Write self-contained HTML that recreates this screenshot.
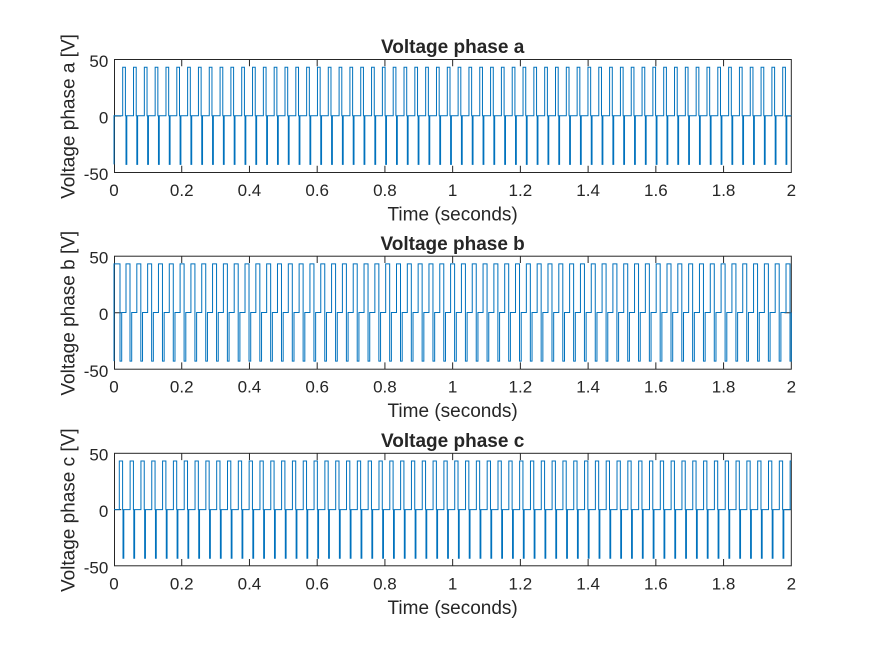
<!DOCTYPE html>
<html>
<head>
<meta charset="utf-8">
<style>
html,body{margin:0;padding:0;background:#fff;}
svg{display:block;}
text{font-family:"Liberation Sans",Arial,sans-serif;fill:#262626;}
.tk{font-size:17px;}
.lb{font-size:19px;}
.tt{font-size:19px;font-weight:bold;}
.ax{fill:none;stroke:#262626;stroke-width:1;}
.tick{stroke:#262626;stroke-width:1;fill:none;}
.data{fill:none;stroke:#0072BD;stroke-width:1;stroke-linejoin:miter;}
</style>
</head>
<body>
<svg width="875" height="656" viewBox="0 0 875 656" xmlns="http://www.w3.org/2000/svg">
<rect x="0" y="0" width="875" height="656" fill="#fff"/>

<!-- ===== Axes 1 ===== -->
<g>
<rect class="ax" x="114.5" y="59.5" width="676.8" height="113"/>
<path class="tick" d="M181.73,172.5v-6.8M249.46,172.5v-6.8M317.19,172.5v-6.8M384.92,172.5v-6.8M452.65,172.5v-6.8M520.38,172.5v-6.8M588.11,172.5v-6.8M655.84,172.5v-6.8M723.57,172.5v-6.8
M181.73,59.5v6.8M249.46,59.5v6.8M317.19,59.5v6.8M384.92,59.5v6.8M452.65,59.5v6.8M520.38,59.5v6.8M588.11,59.5v6.8M655.84,59.5v6.8M723.57,59.5v6.8
M114.5,116h6.8M791.3,116h-6.8"/>
<text class="tk" x="108.3" y="66.8" text-anchor="end">50</text>
<text class="tk" x="108.3" y="123.3" text-anchor="end">0</text>
<text class="tk" x="108.3" y="180.2" text-anchor="end">-50</text>
<g class="tk" text-anchor="middle">
<text x="114" y="196">0</text><text x="181.73" y="196">0.2</text><text x="249.46" y="196">0.4</text><text x="317.19" y="196">0.6</text><text x="384.92" y="196">0.8</text><text x="452.65" y="196">1</text><text x="520.38" y="196">1.2</text><text x="588.11" y="196">1.4</text><text x="655.84" y="196">1.6</text><text x="723.57" y="196">1.8</text><text x="791.3" y="196">2</text>
</g>
<text class="lb" x="452.65" y="220.3" text-anchor="middle">Time (seconds)</text>
<text class="tt" x="452.65" y="53.1" text-anchor="middle">Voltage phase a</text>
<text class="lb" transform="translate(74.5,116.5) rotate(-90)" text-anchor="middle">Voltage phase a [V]</text>
<path class="data" d="M114,164.4V115.8H122.7
v-48.6h2.7v48.6h0.6v48.6h0.8v-48.6h6.72v-48.6h2.7v48.6h0.6v48.6h0.8v-48.6h6.72v-48.6h2.7v48.6h0.6v48.6h0.8v-48.6h6.72v-48.6h2.7v48.6h0.6v48.6h0.8v-48.6h6.72v-48.6h2.7v48.6h0.6v48.6h0.8v-48.6h6.72v-48.6h2.7v48.6h0.6v48.6h0.8v-48.6h6.72v-48.6h2.7v48.6h0.6v48.6h0.8v-48.6h6.72v-48.6h2.7v48.6h0.6v48.6h0.8v-48.6h6.72v-48.6h2.7v48.6h0.6v48.6h0.8v-48.6h6.72v-48.6h2.7v48.6h0.6v48.6h0.8v-48.6h6.72
v-48.6h2.7v48.6h0.6v48.6h0.8v-48.6h6.72v-48.6h2.7v48.6h0.6v48.6h0.8v-48.6h6.72v-48.6h2.7v48.6h0.6v48.6h0.8v-48.6h6.72v-48.6h2.7v48.6h0.6v48.6h0.8v-48.6h6.72v-48.6h2.7v48.6h0.6v48.6h0.8v-48.6h6.72v-48.6h2.7v48.6h0.6v48.6h0.8v-48.6h6.72v-48.6h2.7v48.6h0.6v48.6h0.8v-48.6h6.72v-48.6h2.7v48.6h0.6v48.6h0.8v-48.6h6.72v-48.6h2.7v48.6h0.6v48.6h0.8v-48.6h6.72v-48.6h2.7v48.6h0.6v48.6h0.8v-48.6h6.72
v-48.6h2.7v48.6h0.6v48.6h0.8v-48.6h6.72v-48.6h2.7v48.6h0.6v48.6h0.8v-48.6h6.72v-48.6h2.7v48.6h0.6v48.6h0.8v-48.6h6.72v-48.6h2.7v48.6h0.6v48.6h0.8v-48.6h6.72v-48.6h2.7v48.6h0.6v48.6h0.8v-48.6h6.72v-48.6h2.7v48.6h0.6v48.6h0.8v-48.6h6.72v-48.6h2.7v48.6h0.6v48.6h0.8v-48.6h6.72v-48.6h2.7v48.6h0.6v48.6h0.8v-48.6h6.72v-48.6h2.7v48.6h0.6v48.6h0.8v-48.6h6.72v-48.6h2.7v48.6h0.6v48.6h0.8v-48.6h6.72
v-48.6h2.7v48.6h0.6v48.6h0.8v-48.6h6.72v-48.6h2.7v48.6h0.6v48.6h0.8v-48.6h6.72v-48.6h2.7v48.6h0.6v48.6h0.8v-48.6h6.72v-48.6h2.7v48.6h0.6v48.6h0.8v-48.6h6.72v-48.6h2.7v48.6h0.6v48.6h0.8v-48.6h6.72v-48.6h2.7v48.6h0.6v48.6h0.8v-48.6h6.72v-48.6h2.7v48.6h0.6v48.6h0.8v-48.6h6.72v-48.6h2.7v48.6h0.6v48.6h0.8v-48.6h6.72v-48.6h2.7v48.6h0.6v48.6h0.8v-48.6h6.72v-48.6h2.7v48.6h0.6v48.6h0.8v-48.6h6.72
v-48.6h2.7v48.6h0.6v48.6h0.8v-48.6h6.72v-48.6h2.7v48.6h0.6v48.6h0.8v-48.6h6.72v-48.6h2.7v48.6h0.6v48.6h0.8v-48.6h6.72v-48.6h2.7v48.6h0.6v48.6h0.8v-48.6h6.72v-48.6h2.7v48.6h0.6v48.6h0.8v-48.6h6.72v-48.6h2.7v48.6h0.6v48.6h0.8v-48.6h6.72v-48.6h2.7v48.6h0.6v48.6h0.8v-48.6h6.72v-48.6h2.7v48.6h0.6v48.6h0.8v-48.6h6.72v-48.6h2.7v48.6h0.6v48.6h0.8v-48.6h6.72v-48.6h2.7v48.6h0.6v48.6h0.8v-48.6h6.72
v-48.6h2.7v48.6h0.6v48.6h0.8v-48.6h6.72v-48.6h2.7v48.6h0.6v48.6h0.8v-48.6h6.72v-48.6h2.7v48.6h0.6v48.6h0.8v-48.6h6.72v-48.6h2.7v48.6h0.6v48.6h0.8v-48.6h6.72v-48.6h2.7v48.6h0.6v48.6h0.8v-48.6h6.72v-48.6h2.7v48.6h0.6v48.6h0.8v-48.6h6.72v-48.6h2.7v48.6h0.6v48.6h0.8v-48.6h6.72v-48.6h2.7v48.6h0.6v48.6h0.8v-48.6h6.72v-48.6h2.7v48.6h0.6v48.6h0.8v-48.6h6.72v-48.6h2.7v48.6h0.6v48.6h0.8v-48.6h6.72
v-48.6h2.7v48.6h0.6v48.6h0.8v-48.6h6.72
v-48.6h2.7v48.6h0.6v48.6h0.8v-48.6H791.3"/>
</g>

<!-- ===== Axes 2 ===== -->
<g>
<rect class="ax" x="114.5" y="256.2" width="676.8" height="113"/>
<path class="tick" d="M181.73,369.2v-6.8M249.46,369.2v-6.8M317.19,369.2v-6.8M384.92,369.2v-6.8M452.65,369.2v-6.8M520.38,369.2v-6.8M588.11,369.2v-6.8M655.84,369.2v-6.8M723.57,369.2v-6.8
M181.73,256.2v6.8M249.46,256.2v6.8M317.19,256.2v6.8M384.92,256.2v6.8M452.65,256.2v6.8M520.38,256.2v6.8M588.11,256.2v6.8M655.84,256.2v6.8M723.57,256.2v6.8
M114.5,312.7h6.8M791.3,312.7h-6.8"/>
<text class="tk" x="108.3" y="263.5" text-anchor="end">50</text>
<text class="tk" x="108.3" y="320" text-anchor="end">0</text>
<text class="tk" x="108.3" y="376.9" text-anchor="end">-50</text>
<g class="tk" text-anchor="middle">
<text x="114" y="392.7">0</text><text x="181.73" y="392.7">0.2</text><text x="249.46" y="392.7">0.4</text><text x="317.19" y="392.7">0.6</text><text x="384.92" y="392.7">0.8</text><text x="452.65" y="392.7">1</text><text x="520.38" y="392.7">1.2</text><text x="588.11" y="392.7">1.4</text><text x="655.84" y="392.7">1.6</text><text x="723.57" y="392.7">1.8</text><text x="791.3" y="392.7">2</text>
</g>
<text class="lb" x="452.65" y="417" text-anchor="middle">Time (seconds)</text>
<text class="tt" x="452.65" y="249.8" text-anchor="middle">Voltage phase b</text>
<text class="lb" transform="translate(74.5,313.2) rotate(-90)" text-anchor="middle">Voltage phase b [V]</text>
<path class="data" d="M114,361.1V263.9H120V361.1H121.7V312.5H126
v-48.6h4v97.2h1.7v-48.6h5.12v-48.6h4v97.2h1.7v-48.6h5.12v-48.6h4v97.2h1.7v-48.6h5.12v-48.6h4v97.2h1.7v-48.6h5.12v-48.6h4v97.2h1.7v-48.6h5.12v-48.6h4v97.2h1.7v-48.6h5.12v-48.6h4v97.2h1.7v-48.6h5.12v-48.6h4v97.2h1.7v-48.6h5.12v-48.6h4v97.2h1.7v-48.6h5.12v-48.6h4v97.2h1.7v-48.6h5.12
v-48.6h4v97.2h1.7v-48.6h5.12v-48.6h4v97.2h1.7v-48.6h5.12v-48.6h4v97.2h1.7v-48.6h5.12v-48.6h4v97.2h1.7v-48.6h5.12v-48.6h4v97.2h1.7v-48.6h5.12v-48.6h4v97.2h1.7v-48.6h5.12v-48.6h4v97.2h1.7v-48.6h5.12v-48.6h4v97.2h1.7v-48.6h5.12v-48.6h4v97.2h1.7v-48.6h5.12v-48.6h4v97.2h1.7v-48.6h5.12
v-48.6h4v97.2h1.7v-48.6h5.12v-48.6h4v97.2h1.7v-48.6h5.12v-48.6h4v97.2h1.7v-48.6h5.12v-48.6h4v97.2h1.7v-48.6h5.12v-48.6h4v97.2h1.7v-48.6h5.12v-48.6h4v97.2h1.7v-48.6h5.12v-48.6h4v97.2h1.7v-48.6h5.12v-48.6h4v97.2h1.7v-48.6h5.12v-48.6h4v97.2h1.7v-48.6h5.12v-48.6h4v97.2h1.7v-48.6h5.12
v-48.6h4v97.2h1.7v-48.6h5.12v-48.6h4v97.2h1.7v-48.6h5.12v-48.6h4v97.2h1.7v-48.6h5.12v-48.6h4v97.2h1.7v-48.6h5.12v-48.6h4v97.2h1.7v-48.6h5.12v-48.6h4v97.2h1.7v-48.6h5.12v-48.6h4v97.2h1.7v-48.6h5.12v-48.6h4v97.2h1.7v-48.6h5.12v-48.6h4v97.2h1.7v-48.6h5.12v-48.6h4v97.2h1.7v-48.6h5.12
v-48.6h4v97.2h1.7v-48.6h5.12v-48.6h4v97.2h1.7v-48.6h5.12v-48.6h4v97.2h1.7v-48.6h5.12v-48.6h4v97.2h1.7v-48.6h5.12v-48.6h4v97.2h1.7v-48.6h5.12v-48.6h4v97.2h1.7v-48.6h5.12v-48.6h4v97.2h1.7v-48.6h5.12v-48.6h4v97.2h1.7v-48.6h5.12v-48.6h4v97.2h1.7v-48.6h5.12v-48.6h4v97.2h1.7v-48.6h5.12
v-48.6h4v97.2h1.7v-48.6h5.12v-48.6h4v97.2h1.7v-48.6h5.12v-48.6h4v97.2h1.7v-48.6h5.12v-48.6h4v97.2h1.7v-48.6h5.12v-48.6h4v97.2h1.7v-48.6h5.12v-48.6h4v97.2h1.7v-48.6h5.12v-48.6h4v97.2h1.7v-48.6h5.12v-48.6h4v97.2h1.7v-48.6h5.12v-48.6h4v97.2h1.7v-48.6h5.12v-48.6h4v97.2h1.7v-48.6h5.12
v-48.6h4v97.2h1.7v-48.6h5.12
v-48.6H790V361.1H791.3V312.5"/>
</g>

<!-- ===== Axes 3 ===== -->
<g>
<rect class="ax" x="114.5" y="453.3" width="676.8" height="112.5"/>
<path class="tick" d="M181.73,565.8v-6.8M249.46,565.8v-6.8M317.19,565.8v-6.8M384.92,565.8v-6.8M452.65,565.8v-6.8M520.38,565.8v-6.8M588.11,565.8v-6.8M655.84,565.8v-6.8M723.57,565.8v-6.8
M181.73,453.3v6.8M249.46,453.3v6.8M317.19,453.3v6.8M384.92,453.3v6.8M452.65,453.3v6.8M520.38,453.3v6.8M588.11,453.3v6.8M655.84,453.3v6.8M723.57,453.3v6.8
M114.5,509.6h6.8M791.3,509.6h-6.8"/>
<text class="tk" x="108.3" y="460.6" text-anchor="end">50</text>
<text class="tk" x="108.3" y="517" text-anchor="end">0</text>
<text class="tk" x="108.3" y="573.5" text-anchor="end">-50</text>
<g class="tk" text-anchor="middle">
<text x="114" y="589.5">0</text><text x="181.73" y="589.5">0.2</text><text x="249.46" y="589.5">0.4</text><text x="317.19" y="589.5">0.6</text><text x="384.92" y="589.5">0.8</text><text x="452.65" y="589.5">1</text><text x="520.38" y="589.5">1.2</text><text x="588.11" y="589.5">1.4</text><text x="655.84" y="589.5">1.6</text><text x="723.57" y="589.5">1.8</text><text x="791.3" y="589.5">2</text>
</g>
<text class="lb" x="452.65" y="613.8" text-anchor="middle">Time (seconds)</text>
<text class="tt" x="452.65" y="446.9" text-anchor="middle">Voltage phase c</text>
<text class="lb" transform="translate(74.5,510.2) rotate(-90)" text-anchor="middle">Voltage phase c [V]</text>
<path class="data" d="M114,509.6H119.3
v-48.6h3.3v48.6h0.4v48.6h0.8v-48.6h6.32v-48.6h3.3v48.6h0.4v48.6h0.8v-48.6h6.32v-48.6h3.3v48.6h0.4v48.6h0.8v-48.6h6.32v-48.6h3.3v48.6h0.4v48.6h0.8v-48.6h6.32v-48.6h3.3v48.6h0.4v48.6h0.8v-48.6h6.32v-48.6h3.3v48.6h0.4v48.6h0.8v-48.6h6.32v-48.6h3.3v48.6h0.4v48.6h0.8v-48.6h6.32v-48.6h3.3v48.6h0.4v48.6h0.8v-48.6h6.32v-48.6h3.3v48.6h0.4v48.6h0.8v-48.6h6.32v-48.6h3.3v48.6h0.4v48.6h0.8v-48.6h6.32
v-48.6h3.3v48.6h0.4v48.6h0.8v-48.6h6.32v-48.6h3.3v48.6h0.4v48.6h0.8v-48.6h6.32v-48.6h3.3v48.6h0.4v48.6h0.8v-48.6h6.32v-48.6h3.3v48.6h0.4v48.6h0.8v-48.6h6.32v-48.6h3.3v48.6h0.4v48.6h0.8v-48.6h6.32v-48.6h3.3v48.6h0.4v48.6h0.8v-48.6h6.32v-48.6h3.3v48.6h0.4v48.6h0.8v-48.6h6.32v-48.6h3.3v48.6h0.4v48.6h0.8v-48.6h6.32v-48.6h3.3v48.6h0.4v48.6h0.8v-48.6h6.32v-48.6h3.3v48.6h0.4v48.6h0.8v-48.6h6.32
v-48.6h3.3v48.6h0.4v48.6h0.8v-48.6h6.32v-48.6h3.3v48.6h0.4v48.6h0.8v-48.6h6.32v-48.6h3.3v48.6h0.4v48.6h0.8v-48.6h6.32v-48.6h3.3v48.6h0.4v48.6h0.8v-48.6h6.32v-48.6h3.3v48.6h0.4v48.6h0.8v-48.6h6.32v-48.6h3.3v48.6h0.4v48.6h0.8v-48.6h6.32v-48.6h3.3v48.6h0.4v48.6h0.8v-48.6h6.32v-48.6h3.3v48.6h0.4v48.6h0.8v-48.6h6.32v-48.6h3.3v48.6h0.4v48.6h0.8v-48.6h6.32v-48.6h3.3v48.6h0.4v48.6h0.8v-48.6h6.32
v-48.6h3.3v48.6h0.4v48.6h0.8v-48.6h6.32v-48.6h3.3v48.6h0.4v48.6h0.8v-48.6h6.32v-48.6h3.3v48.6h0.4v48.6h0.8v-48.6h6.32v-48.6h3.3v48.6h0.4v48.6h0.8v-48.6h6.32v-48.6h3.3v48.6h0.4v48.6h0.8v-48.6h6.32v-48.6h3.3v48.6h0.4v48.6h0.8v-48.6h6.32v-48.6h3.3v48.6h0.4v48.6h0.8v-48.6h6.32v-48.6h3.3v48.6h0.4v48.6h0.8v-48.6h6.32v-48.6h3.3v48.6h0.4v48.6h0.8v-48.6h6.32v-48.6h3.3v48.6h0.4v48.6h0.8v-48.6h6.32
v-48.6h3.3v48.6h0.4v48.6h0.8v-48.6h6.32v-48.6h3.3v48.6h0.4v48.6h0.8v-48.6h6.32v-48.6h3.3v48.6h0.4v48.6h0.8v-48.6h6.32v-48.6h3.3v48.6h0.4v48.6h0.8v-48.6h6.32v-48.6h3.3v48.6h0.4v48.6h0.8v-48.6h6.32v-48.6h3.3v48.6h0.4v48.6h0.8v-48.6h6.32v-48.6h3.3v48.6h0.4v48.6h0.8v-48.6h6.32v-48.6h3.3v48.6h0.4v48.6h0.8v-48.6h6.32v-48.6h3.3v48.6h0.4v48.6h0.8v-48.6h6.32v-48.6h3.3v48.6h0.4v48.6h0.8v-48.6h6.32
v-48.6h3.3v48.6h0.4v48.6h0.8v-48.6h6.32v-48.6h3.3v48.6h0.4v48.6h0.8v-48.6h6.32v-48.6h3.3v48.6h0.4v48.6h0.8v-48.6h6.32v-48.6h3.3v48.6h0.4v48.6h0.8v-48.6h6.32v-48.6h3.3v48.6h0.4v48.6h0.8v-48.6h6.32v-48.6h3.3v48.6h0.4v48.6h0.8v-48.6h6.32v-48.6h3.3v48.6h0.4v48.6h0.8v-48.6h6.32v-48.6h3.3v48.6h0.4v48.6h0.8v-48.6h6.32v-48.6h3.3v48.6h0.4v48.6h0.8v-48.6h6.32v-48.6h3.3v48.6h0.4v48.6h0.8v-48.6h6.32
v-48.6h3.3v48.6h0.4v48.6h0.8v-48.6h6.32v-48.6h3.3v48.6h0.4v48.6h0.8v-48.6h6.32
v-48.6H791.3"/>
</g>
</svg>
</body>
</html>
